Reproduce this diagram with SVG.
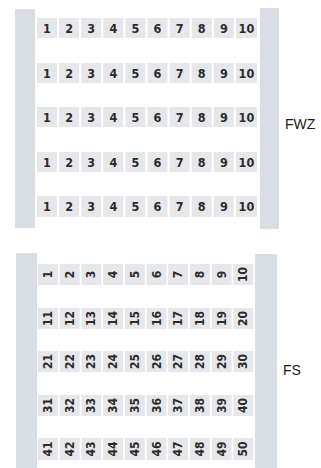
<svg xmlns="http://www.w3.org/2000/svg" width="321" height="468" viewBox="0 0 321 468">
<style>
.bar{fill:#d9dde4}
.cell{fill:#e5e7eb}
.n{font-family:"DejaVu Sans Condensed","DejaVu Sans",sans-serif;font-stretch:condensed;font-weight:bold;font-size:12.5px;fill:#2b2b2b;text-anchor:middle}
.r{font-family:"DejaVu Sans Condensed","DejaVu Sans",sans-serif;font-stretch:condensed;font-weight:bold;font-size:12px;fill:#2b2b2b;text-anchor:middle;dominant-baseline:central}
.lbl{font-family:"Liberation Sans",Arial,sans-serif;font-size:14px;fill:#1a1a1a}
</style>
<rect width="321" height="468" fill="#ffffff"/>
<g id="fwz">
<rect class="bar" x="15" y="9" width="20" height="219"/>
<rect class="bar" x="260" y="8" width="19" height="221"/>
<g id="fwz-row1">
<rect class="cell" x="37" y="18" width="20" height="20"/><text class="n" x="47" y="32.5">1</text>
<rect class="cell" x="59.1" y="18" width="20" height="20"/><text class="n" x="69.1" y="32.5">2</text>
<rect class="cell" x="81.2" y="18" width="20" height="20"/><text class="n" x="91.2" y="32.5">3</text>
<rect class="cell" x="103.3" y="18" width="20" height="20"/><text class="n" x="113.3" y="32.5">4</text>
<rect class="cell" x="125.4" y="18" width="20" height="20"/><text class="n" x="135.4" y="32.5">5</text>
<rect class="cell" x="147.5" y="18" width="20" height="20"/><text class="n" x="157.5" y="32.5">6</text>
<rect class="cell" x="169.6" y="18" width="20" height="20"/><text class="n" x="179.6" y="32.5">7</text>
<rect class="cell" x="191.7" y="18" width="20" height="20"/><text class="n" x="201.7" y="32.5">8</text>
<rect class="cell" x="213.8" y="18" width="20" height="20"/><text class="n" x="223.8" y="32.5">9</text>
<rect class="cell" x="235.9" y="18" width="21" height="20"/><text class="n" x="246.4" y="32.5">10</text>
</g>
<g id="fwz-row2">
<rect class="cell" x="37" y="63" width="20" height="20"/><text class="n" x="47" y="77.5">1</text>
<rect class="cell" x="59.1" y="63" width="20" height="20"/><text class="n" x="69.1" y="77.5">2</text>
<rect class="cell" x="81.2" y="63" width="20" height="20"/><text class="n" x="91.2" y="77.5">3</text>
<rect class="cell" x="103.3" y="63" width="20" height="20"/><text class="n" x="113.3" y="77.5">4</text>
<rect class="cell" x="125.4" y="63" width="20" height="20"/><text class="n" x="135.4" y="77.5">5</text>
<rect class="cell" x="147.5" y="63" width="20" height="20"/><text class="n" x="157.5" y="77.5">6</text>
<rect class="cell" x="169.6" y="63" width="20" height="20"/><text class="n" x="179.6" y="77.5">7</text>
<rect class="cell" x="191.7" y="63" width="20" height="20"/><text class="n" x="201.7" y="77.5">8</text>
<rect class="cell" x="213.8" y="63" width="20" height="20"/><text class="n" x="223.8" y="77.5">9</text>
<rect class="cell" x="235.9" y="63" width="21" height="20"/><text class="n" x="246.4" y="77.5">10</text>
</g>
<g id="fwz-row3">
<rect class="cell" x="37" y="107" width="20" height="20"/><text class="n" x="47" y="121.5">1</text>
<rect class="cell" x="59.1" y="107" width="20" height="20"/><text class="n" x="69.1" y="121.5">2</text>
<rect class="cell" x="81.2" y="107" width="20" height="20"/><text class="n" x="91.2" y="121.5">3</text>
<rect class="cell" x="103.3" y="107" width="20" height="20"/><text class="n" x="113.3" y="121.5">4</text>
<rect class="cell" x="125.4" y="107" width="20" height="20"/><text class="n" x="135.4" y="121.5">5</text>
<rect class="cell" x="147.5" y="107" width="20" height="20"/><text class="n" x="157.5" y="121.5">6</text>
<rect class="cell" x="169.6" y="107" width="20" height="20"/><text class="n" x="179.6" y="121.5">7</text>
<rect class="cell" x="191.7" y="107" width="20" height="20"/><text class="n" x="201.7" y="121.5">8</text>
<rect class="cell" x="213.8" y="107" width="20" height="20"/><text class="n" x="223.8" y="121.5">9</text>
<rect class="cell" x="235.9" y="107" width="21" height="20"/><text class="n" x="246.4" y="121.5">10</text>
</g>
<g id="fwz-row4">
<rect class="cell" x="37" y="152" width="20" height="20"/><text class="n" x="47" y="166.5">1</text>
<rect class="cell" x="59.1" y="152" width="20" height="20"/><text class="n" x="69.1" y="166.5">2</text>
<rect class="cell" x="81.2" y="152" width="20" height="20"/><text class="n" x="91.2" y="166.5">3</text>
<rect class="cell" x="103.3" y="152" width="20" height="20"/><text class="n" x="113.3" y="166.5">4</text>
<rect class="cell" x="125.4" y="152" width="20" height="20"/><text class="n" x="135.4" y="166.5">5</text>
<rect class="cell" x="147.5" y="152" width="20" height="20"/><text class="n" x="157.5" y="166.5">6</text>
<rect class="cell" x="169.6" y="152" width="20" height="20"/><text class="n" x="179.6" y="166.5">7</text>
<rect class="cell" x="191.7" y="152" width="20" height="20"/><text class="n" x="201.7" y="166.5">8</text>
<rect class="cell" x="213.8" y="152" width="20" height="20"/><text class="n" x="223.8" y="166.5">9</text>
<rect class="cell" x="235.9" y="152" width="21" height="20"/><text class="n" x="246.4" y="166.5">10</text>
</g>
<g id="fwz-row5">
<rect class="cell" x="37" y="196" width="20" height="21"/><text class="n" x="47" y="211">1</text>
<rect class="cell" x="59.1" y="196" width="20" height="21"/><text class="n" x="69.1" y="211">2</text>
<rect class="cell" x="81.2" y="196" width="20" height="21"/><text class="n" x="91.2" y="211">3</text>
<rect class="cell" x="103.3" y="196" width="20" height="21"/><text class="n" x="113.3" y="211">4</text>
<rect class="cell" x="125.4" y="196" width="20" height="21"/><text class="n" x="135.4" y="211">5</text>
<rect class="cell" x="147.5" y="196" width="20" height="21"/><text class="n" x="157.5" y="211">6</text>
<rect class="cell" x="169.6" y="196" width="20" height="21"/><text class="n" x="179.6" y="211">7</text>
<rect class="cell" x="191.7" y="196" width="20" height="21"/><text class="n" x="201.7" y="211">8</text>
<rect class="cell" x="213.8" y="196" width="20" height="21"/><text class="n" x="223.8" y="211">9</text>
<rect class="cell" x="235.9" y="196" width="21" height="21"/><text class="n" x="246.4" y="211">10</text>
</g>
<text id="fwz-label" class="lbl" x="285" y="129">FWZ</text>
</g>
<g id="fs">
<rect class="bar" x="16" y="253" width="21" height="215"/>
<rect class="bar" x="255" y="254" width="22" height="214"/>
<g id="fs-row1">
<rect class="cell" x="38" y="264" width="20" height="21"/><text class="r" transform="translate(48 274.5) rotate(-90)">1</text>
<rect class="cell" x="59.7" y="264" width="20" height="21"/><text class="r" transform="translate(69.7 274.5) rotate(-90)">2</text>
<rect class="cell" x="81.4" y="264" width="20" height="21"/><text class="r" transform="translate(91.4 274.5) rotate(-90)">3</text>
<rect class="cell" x="103.1" y="264" width="20" height="21"/><text class="r" transform="translate(113.1 274.5) rotate(-90)">4</text>
<rect class="cell" x="124.8" y="264" width="20" height="21"/><text class="r" transform="translate(134.8 274.5) rotate(-90)">5</text>
<rect class="cell" x="146.5" y="264" width="20" height="21"/><text class="r" transform="translate(156.5 274.5) rotate(-90)">6</text>
<rect class="cell" x="168.2" y="264" width="20" height="21"/><text class="r" transform="translate(178.2 274.5) rotate(-90)">7</text>
<rect class="cell" x="189.9" y="264" width="20" height="21"/><text class="r" transform="translate(199.9 274.5) rotate(-90)">8</text>
<rect class="cell" x="211.6" y="264" width="20" height="21"/><text class="r" transform="translate(221.6 274.5) rotate(-90)">9</text>
<rect class="cell" x="233.3" y="264" width="20" height="21"/><text class="r" transform="translate(243.3 274.5) rotate(-90)">10</text>
</g>
<g id="fs-row2">
<rect class="cell" x="38" y="308" width="20" height="21"/><text class="r" transform="translate(48 318.5) rotate(-90)">11</text>
<rect class="cell" x="59.7" y="308" width="20" height="21"/><text class="r" transform="translate(69.7 318.5) rotate(-90)">12</text>
<rect class="cell" x="81.4" y="308" width="20" height="21"/><text class="r" transform="translate(91.4 318.5) rotate(-90)">13</text>
<rect class="cell" x="103.1" y="308" width="20" height="21"/><text class="r" transform="translate(113.1 318.5) rotate(-90)">14</text>
<rect class="cell" x="124.8" y="308" width="20" height="21"/><text class="r" transform="translate(134.8 318.5) rotate(-90)">15</text>
<rect class="cell" x="146.5" y="308" width="20" height="21"/><text class="r" transform="translate(156.5 318.5) rotate(-90)">16</text>
<rect class="cell" x="168.2" y="308" width="20" height="21"/><text class="r" transform="translate(178.2 318.5) rotate(-90)">17</text>
<rect class="cell" x="189.9" y="308" width="20" height="21"/><text class="r" transform="translate(199.9 318.5) rotate(-90)">18</text>
<rect class="cell" x="211.6" y="308" width="20" height="21"/><text class="r" transform="translate(221.6 318.5) rotate(-90)">19</text>
<rect class="cell" x="233.3" y="308" width="20" height="21"/><text class="r" transform="translate(243.3 318.5) rotate(-90)">20</text>
</g>
<g id="fs-row3">
<rect class="cell" x="38" y="351" width="20" height="21"/><text class="r" transform="translate(48 361.5) rotate(-90)">21</text>
<rect class="cell" x="59.7" y="351" width="20" height="21"/><text class="r" transform="translate(69.7 361.5) rotate(-90)">22</text>
<rect class="cell" x="81.4" y="351" width="20" height="21"/><text class="r" transform="translate(91.4 361.5) rotate(-90)">23</text>
<rect class="cell" x="103.1" y="351" width="20" height="21"/><text class="r" transform="translate(113.1 361.5) rotate(-90)">24</text>
<rect class="cell" x="124.8" y="351" width="20" height="21"/><text class="r" transform="translate(134.8 361.5) rotate(-90)">25</text>
<rect class="cell" x="146.5" y="351" width="20" height="21"/><text class="r" transform="translate(156.5 361.5) rotate(-90)">26</text>
<rect class="cell" x="168.2" y="351" width="20" height="21"/><text class="r" transform="translate(178.2 361.5) rotate(-90)">27</text>
<rect class="cell" x="189.9" y="351" width="20" height="21"/><text class="r" transform="translate(199.9 361.5) rotate(-90)">28</text>
<rect class="cell" x="211.6" y="351" width="20" height="21"/><text class="r" transform="translate(221.6 361.5) rotate(-90)">29</text>
<rect class="cell" x="233.3" y="351" width="20" height="21"/><text class="r" transform="translate(243.3 361.5) rotate(-90)">30</text>
</g>
<g id="fs-row4">
<rect class="cell" x="38" y="395" width="20" height="21"/><text class="r" transform="translate(48 405.5) rotate(-90)">31</text>
<rect class="cell" x="59.7" y="395" width="20" height="21"/><text class="r" transform="translate(69.7 405.5) rotate(-90)">32</text>
<rect class="cell" x="81.4" y="395" width="20" height="21"/><text class="r" transform="translate(91.4 405.5) rotate(-90)">33</text>
<rect class="cell" x="103.1" y="395" width="20" height="21"/><text class="r" transform="translate(113.1 405.5) rotate(-90)">34</text>
<rect class="cell" x="124.8" y="395" width="20" height="21"/><text class="r" transform="translate(134.8 405.5) rotate(-90)">35</text>
<rect class="cell" x="146.5" y="395" width="20" height="21"/><text class="r" transform="translate(156.5 405.5) rotate(-90)">36</text>
<rect class="cell" x="168.2" y="395" width="20" height="21"/><text class="r" transform="translate(178.2 405.5) rotate(-90)">37</text>
<rect class="cell" x="189.9" y="395" width="20" height="21"/><text class="r" transform="translate(199.9 405.5) rotate(-90)">38</text>
<rect class="cell" x="211.6" y="395" width="20" height="21"/><text class="r" transform="translate(221.6 405.5) rotate(-90)">39</text>
<rect class="cell" x="233.3" y="395" width="20" height="21"/><text class="r" transform="translate(243.3 405.5) rotate(-90)">40</text>
</g>
<g id="fs-row5">
<rect class="cell" x="38" y="438" width="20" height="22"/><text class="r" transform="translate(48 449) rotate(-90)">41</text>
<rect class="cell" x="59.7" y="438" width="20" height="22"/><text class="r" transform="translate(69.7 449) rotate(-90)">42</text>
<rect class="cell" x="81.4" y="438" width="20" height="22"/><text class="r" transform="translate(91.4 449) rotate(-90)">43</text>
<rect class="cell" x="103.1" y="438" width="20" height="22"/><text class="r" transform="translate(113.1 449) rotate(-90)">44</text>
<rect class="cell" x="124.8" y="438" width="20" height="22"/><text class="r" transform="translate(134.8 449) rotate(-90)">45</text>
<rect class="cell" x="146.5" y="438" width="20" height="22"/><text class="r" transform="translate(156.5 449) rotate(-90)">46</text>
<rect class="cell" x="168.2" y="438" width="20" height="22"/><text class="r" transform="translate(178.2 449) rotate(-90)">47</text>
<rect class="cell" x="189.9" y="438" width="20" height="22"/><text class="r" transform="translate(199.9 449) rotate(-90)">48</text>
<rect class="cell" x="211.6" y="438" width="20" height="22"/><text class="r" transform="translate(221.6 449) rotate(-90)">49</text>
<rect class="cell" x="233.3" y="438" width="20" height="22"/><text class="r" transform="translate(243.3 449) rotate(-90)">50</text>
</g>
<text id="fs-label" class="lbl" x="283" y="375">FS</text>
</g>
</svg>
